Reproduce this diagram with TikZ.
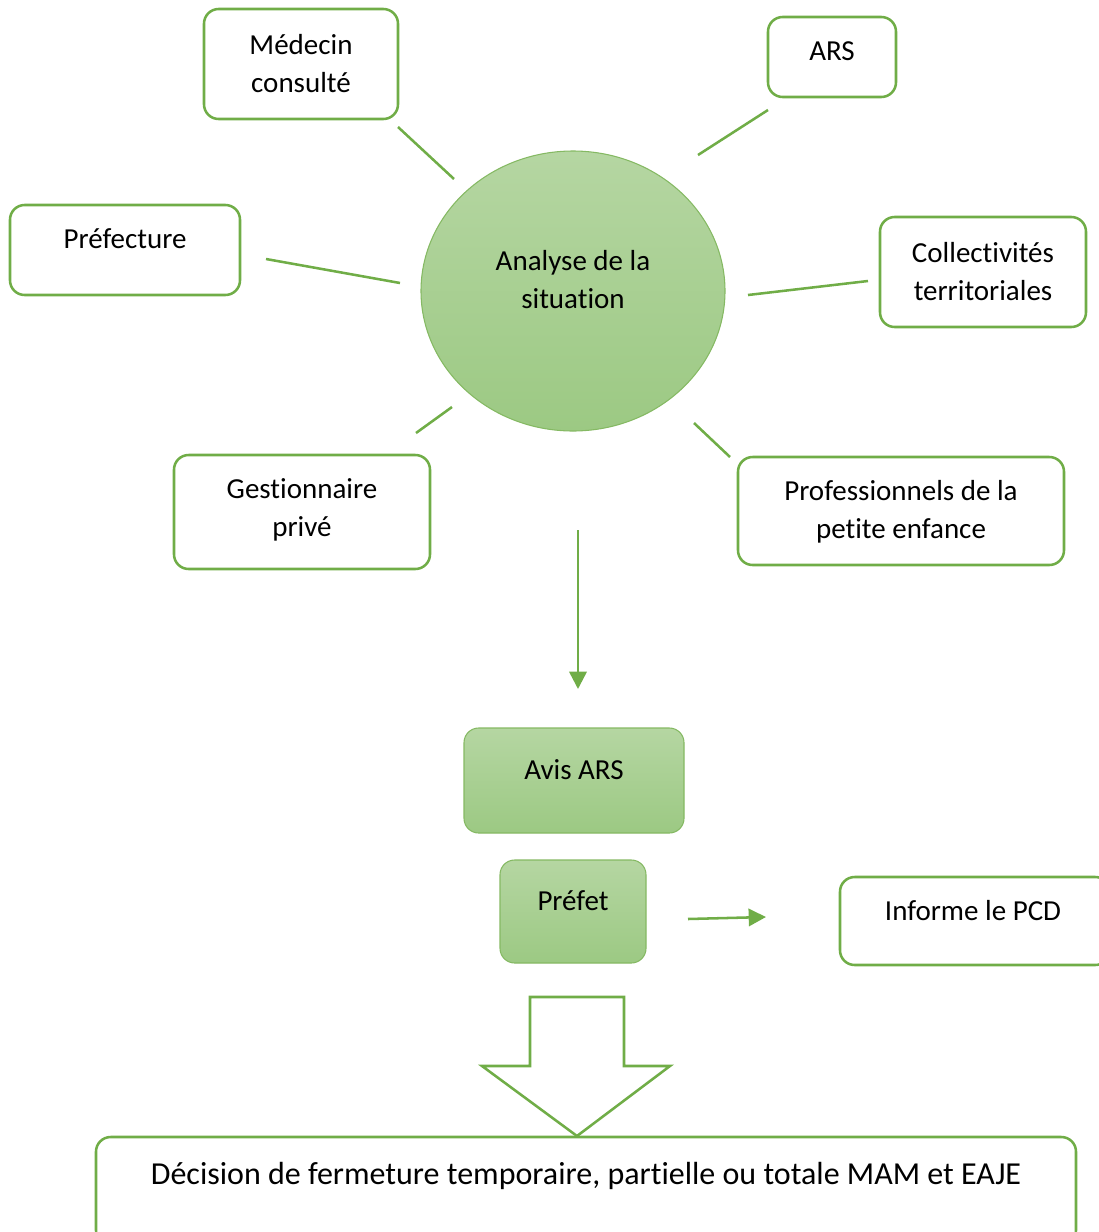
\documentclass[tikz,border=0pt]{standalone}
\usepackage{fontspec}
\setmainfont{Carlito}[Ligatures=NoCommon]
\usetikzlibrary{arrows.meta,shapes.geometric}
\definecolor{ogreen}{HTML}{70AD47}
\definecolor{gtop}{HTML}{B5D6A2}
\definecolor{gbot}{HTML}{9CC983}
\begin{document}
\begin{tikzpicture}[x=0.75pt,y=-0.75pt,
  box/.style={draw=ogreen, line width=1.9pt, rounded corners=11pt, rectangle, inner sep=0pt},
  gbox/.style={draw=ogreen!85, line width=0.8pt, rounded corners=11pt, rectangle, inner sep=0pt, top color=gtop, bottom color=gbot},
  txt/.style={font=\fontsize{21.75pt}{28.5pt}\selectfont, align=center, inner sep=0pt},
  conn/.style={draw=ogreen, line width=1.9pt},
  arr/.style={conn, -{Triangle[length=13pt,width=13pt]}}]
\useasboundingbox (0,0) rectangle (1099,1232);
\clip (0,0) rectangle (1099,1232);

% boxes
\node[box, minimum width=145.5pt, minimum height=82.5pt] (med) at (301,64) {};
\node[box, minimum width=96pt, minimum height=60pt] (ars) at (832,57) {};
\node[box, minimum width=172.5pt, minimum height=67.5pt] (pref) at (125,250) {};
\node[box, minimum width=154.5pt, minimum height=82.5pt] (coll) at (983,272) {};
\node[box, minimum width=192pt, minimum height=85.5pt] (gest) at (302,512) {};
\node[box, minimum width=244.5pt, minimum height=81pt] (prof) at (901,511) {};
\node[gbox, minimum width=165pt, minimum height=78.75pt] (avis) at (574,780.5) {};
\node[gbox, minimum width=109.5pt, minimum height=77.25pt] (prefet) at (573,911.5) {};
\node[box, minimum width=202.5pt, minimum height=66pt] (inf) at (975,921) {};
\node[box, minimum width=735pt, minimum height=81pt] (dec) at (586,1191) {};
\node[ellipse, draw=ogreen!85, line width=0.8pt, top color=gtop, bottom color=gbot, minimum width=228pt, minimum height=210pt, inner sep=0pt] (ana) at (573,291) {};

% texts
\node[txt] (tmed) at (301,63.5) {Médecin\\consulté};
\node[txt] (tars) at (832,51) {ARS};
\node[txt] (tpref) at (125,239) {Préfecture};
\node[txt] (tcoll) at (983,271.5) {Collectivités\\territoriales};
\node[txt] (tana) at (573,280) {Analyse de la\\situation};
\node[txt] (tgest) at (302,510) {Gestionnaire\\privé};
\node[txt] (tprof) at (901,511.5) {Professionnels de la\\petite enfance};
\node[txt] (tavis) at (574,770) {Avis ARS};
\node[txt] (tprefet) at (573,901) {Préfet};
\node[txt] (tinf) at (973,911) {Informe le PCD};
\node[txt, font=\fontsize{24pt}{30pt}\selectfont] (tdec) at (586,1176) {Décision de fermeture temporaire, partielle ou totale MAM et EAJE};

% connector end points
\coordinate (m1) at (398,127); \coordinate (m2) at (454,179);
\coordinate (a1) at (768,110); \coordinate (a2) at (698,155);
\coordinate (p1) at (266,259); \coordinate (p2) at (400,283);
\coordinate (c1) at (868,281); \coordinate (c2) at (748,295);
\coordinate (g1) at (452,407); \coordinate (g2) at (416,433);
\coordinate (r1) at (694,423); \coordinate (r2) at (730,457);
\coordinate (d1) at (578,530); \coordinate (d2) at (578,689);
\coordinate (i1) at (688,919); \coordinate (i2) at (766,917);

\draw[conn] (m1) -- (m2);
\draw[conn] (a1) -- (a2);
\draw[conn] (p1) -- (p2);
\draw[conn] (c1) -- (c2);
\draw[conn] (g1) -- (g2);
\draw[conn] (r1) -- (r2);
\draw[arr] (d1) -- (d2);
\draw[arr] (i1) -- (i2);

% block arrow
\draw[draw=ogreen, line width=1.9pt, fill=white, line join=miter]
  (530,997) -- (624,997) -- (624,1066) -- (670,1066) -- (577,1136)
  -- (482,1066) -- (530,1066) -- cycle;
\end{tikzpicture}
\end{document}
